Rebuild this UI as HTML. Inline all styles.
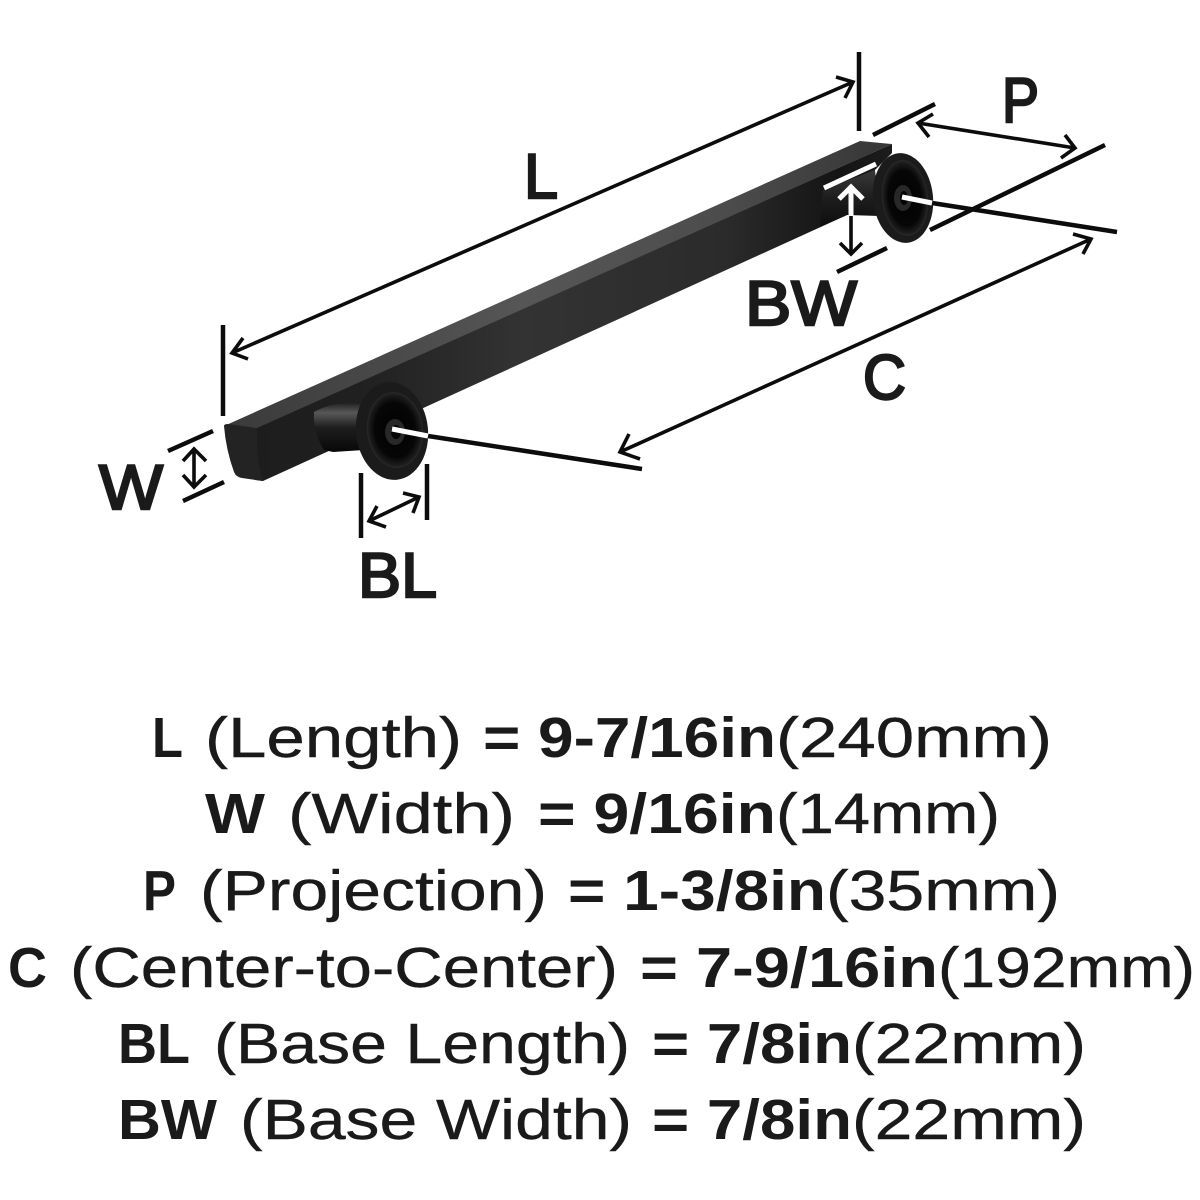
<!DOCTYPE html>
<html lang="en">
<head>
<meta charset="utf-8">
<title>Dimensions</title>
<style>
html,body{margin:0;padding:0;background:#fff}
svg{display:block}
text{font-family:"Liberation Sans",sans-serif;fill:#1a1a1a}
.d text{font-size:57px}
.b{font-weight:bold}
.r{stroke:#1a1a1a;stroke-width:.4px}
.lab{font-size:63px;stroke:#1a1a1a;stroke-width:2.4px}
.k{stroke:#0c0c0c;stroke-width:4.5;fill:none;stroke-linecap:butt;stroke-linejoin:miter}
.a{stroke:#0c0c0c;stroke-width:3.6;fill:none}
.w{stroke:#fff;stroke-width:5;fill:none}
</style>
</head>
<body>
<svg width="1200" height="1200" viewBox="0 0 1200 1200" xmlns="http://www.w3.org/2000/svg">
<defs>
<linearGradient id="top" gradientUnits="userSpaceOnUse" x1="224" y1="0" x2="892" y2="0"><stop offset="0" stop-color="#3a3a3a"/><stop offset=".45" stop-color="#565656"/><stop offset=".75" stop-color="#4c4c4c"/><stop offset="1" stop-color="#363636"/></linearGradient>
<linearGradient id="front" gradientUnits="userSpaceOnUse" x1="224" y1="0" x2="892" y2="0"><stop offset="0" stop-color="#1c1c1c"/><stop offset=".2" stop-color="#202020"/><stop offset=".45" stop-color="#333"/><stop offset=".75" stop-color="#2b2b2b"/><stop offset=".92" stop-color="#141414"/><stop offset="1" stop-color="#1c1c1c"/></linearGradient>
<linearGradient id="stem" x1="0" y1="0" x2="0" y2="1"><stop offset="0" stop-color="#222"/><stop offset=".2" stop-color="#585858"/><stop offset=".5" stop-color="#1e1e1e"/><stop offset="1" stop-color="#080808"/></linearGradient>
<linearGradient id="stem2" x1="0" y1="0" x2="0" y2="1"><stop offset="0" stop-color="#3a3a3a"/><stop offset=".5" stop-color="#1d1d1d"/><stop offset="1" stop-color="#0d0d0d"/></linearGradient>
<radialGradient id="dish"><stop offset="0" stop-color="#020202"/><stop offset=".72" stop-color="#060606"/><stop offset=".93" stop-color="#1c1c1c"/><stop offset="1" stop-color="#2a2a2a"/></radialGradient>
</defs>
<rect width="1200" height="1200" fill="#fff"/>

<!-- handle bar -->
<polygon points="250,430 892,144 892,153 875,170 847,215 263,481 255,480" fill="url(#front)"/>
<polygon points="224,426 860,141 892,144 257,428" fill="url(#top)"/>
<path d="M224,426 Q224,424 228,424 L257,428 Q256,460 263,481 L242,478 Q236,477 234,472 Q226,450 224,426 Z" fill="#232323"/>

<!-- left post -->
<path d="M314,412 Q335,400 364,404 L364,450 L333,452 L324,450 Q313,432 314,412 Z" fill="url(#stem)"/>
<ellipse cx="392" cy="431" rx="36" ry="49" fill="#1b1b1b" transform="rotate(-6 392 431)"/>
<ellipse cx="395" cy="430" rx="28" ry="38" fill="url(#dish)" transform="rotate(-6 395 430)"/>
<ellipse cx="395" cy="432" rx="10" ry="13" fill="#282828"/>
<ellipse cx="396" cy="432" rx="5" ry="7" fill="#050505"/>

<!-- right post -->
<path d="M823,190 L875,170 L880,216 L847,215 L820,227 Z" fill="url(#stem2)"/>
<ellipse cx="903" cy="198" rx="30" ry="45" fill="#1b1b1b" transform="rotate(-6 903 198)"/>
<ellipse cx="905" cy="198" rx="23" ry="38" fill="url(#dish)" transform="rotate(-6 905 198)"/>
<ellipse cx="903" cy="198" rx="9" ry="13" fill="#282828"/>
<ellipse cx="904" cy="198" rx="4" ry="7" fill="#050505"/>

<!-- L dimension -->
<path class="k" d="M859,52V131M223,325V416"/>
<path class="a" d="M232,353L853,82M836,77L853,82L845,98M243,338L232,353L248,359"/>
<!-- P dimension -->
<path class="k" d="M873,135L935,104M930,230L1105,145"/>
<path class="a" d="M918,123L1075,148M933,114L918,123L929,137M1065,135L1075,148L1061,158"/>
<!-- C dimension -->
<path class="k" d="M932,203L1117,232M428,436L642,469"/>
<path class="a" d="M620,452L1091,239M1073,234L1091,239L1083,254M629,434L620,452L640,459"/>
<path class="w" d="M902,197L932,203M392,429L428,436"/>
<!-- BW dimension -->
<path class="w" d="M824,188L876,164M851,189V216M839,199L851,187L863,199"/>
<path class="a" d="M851,216V253M840,243L851,254L862,243"/>
<path class="k" d="M837,272L887,248"/>
<!-- W dimension -->
<path class="k" d="M168,451L213,431M183,501L224,482"/>
<path class="a" d="M194,450V486M183,461L194,449L206,461M183,475L194,487L206,475"/>
<!-- BL dimension -->
<path class="k" d="M361,473V538M427,464V520"/>
<path class="a" d="M369,521L419,497M377,506L369,521L386,527M403,493L419,497L413,513"/>

<!-- dimension letters -->
<text class="lab" x="524" y="198" textLength="34" lengthAdjust="spacingAndGlyphs">L</text>
<text class="lab" x="1002" y="122" textLength="37" lengthAdjust="spacingAndGlyphs">P</text>
<text class="lab" x="745" y="325" textLength="112" lengthAdjust="spacingAndGlyphs">BW</text>
<text class="lab" x="863" y="399" textLength="43" lengthAdjust="spacingAndGlyphs">C</text>
<text class="lab" x="99" y="509" textLength="64" lengthAdjust="spacingAndGlyphs">W</text>
<text class="lab" x="358" y="597" textLength="79" lengthAdjust="spacingAndGlyphs">BL</text>

<!-- specification text -->
<g class="d">
<text class="b" x="152" y="757" textLength="31" lengthAdjust="spacingAndGlyphs">L</text>
<text class="r" x="205" y="757" textLength="257" lengthAdjust="spacingAndGlyphs">(Length)</text>
<text class="b" x="483" y="757" textLength="293" lengthAdjust="spacingAndGlyphs">= 9-7/16in</text>
<text class="r" x="776" y="757" textLength="276" lengthAdjust="spacingAndGlyphs">(240mm)</text>

<text class="b" x="205" y="833" textLength="60" lengthAdjust="spacingAndGlyphs">W</text>
<text class="r" x="288" y="833" textLength="227" lengthAdjust="spacingAndGlyphs">(Width)</text>
<text class="b" x="538" y="833" textLength="238" lengthAdjust="spacingAndGlyphs">= 9/16in</text>
<text class="r" x="776" y="833" textLength="224" lengthAdjust="spacingAndGlyphs">(14mm)</text>

<text class="b" x="143" y="910" textLength="33" lengthAdjust="spacingAndGlyphs">P</text>
<text class="r" x="200" y="910" textLength="347" lengthAdjust="spacingAndGlyphs">(Projection)</text>
<text class="b" x="568" y="910" textLength="258" lengthAdjust="spacingAndGlyphs">= 1-3/8in</text>
<text class="r" x="826" y="910" textLength="234" lengthAdjust="spacingAndGlyphs">(35mm)</text>

<text class="b" x="8" y="987" textLength="39" lengthAdjust="spacingAndGlyphs">C</text>
<text class="r" x="70" y="987" textLength="548" lengthAdjust="spacingAndGlyphs">(Center-to-Center)</text>
<text class="b" x="640" y="987" textLength="298" lengthAdjust="spacingAndGlyphs">= 7-9/16in</text>
<text class="r" x="938" y="987" textLength="257" lengthAdjust="spacingAndGlyphs">(192mm)</text>

<text class="b" x="118" y="1063" textLength="72" lengthAdjust="spacingAndGlyphs">BL</text>
<text class="r" x="214" y="1063" textLength="416" lengthAdjust="spacingAndGlyphs">(Base Length)</text>
<text class="b" x="652" y="1063" textLength="200" lengthAdjust="spacingAndGlyphs">= 7/8in</text>
<text class="r" x="852" y="1063" textLength="234" lengthAdjust="spacingAndGlyphs">(22mm)</text>

<text class="b" x="118" y="1139" textLength="99" lengthAdjust="spacingAndGlyphs">BW</text>
<text class="r" x="240" y="1139" textLength="392" lengthAdjust="spacingAndGlyphs">(Base Width)</text>
<text class="b" x="652" y="1139" textLength="200" lengthAdjust="spacingAndGlyphs">= 7/8in</text>
<text class="r" x="852" y="1139" textLength="234" lengthAdjust="spacingAndGlyphs">(22mm)</text>
</g>
</svg>
</body>
</html>
